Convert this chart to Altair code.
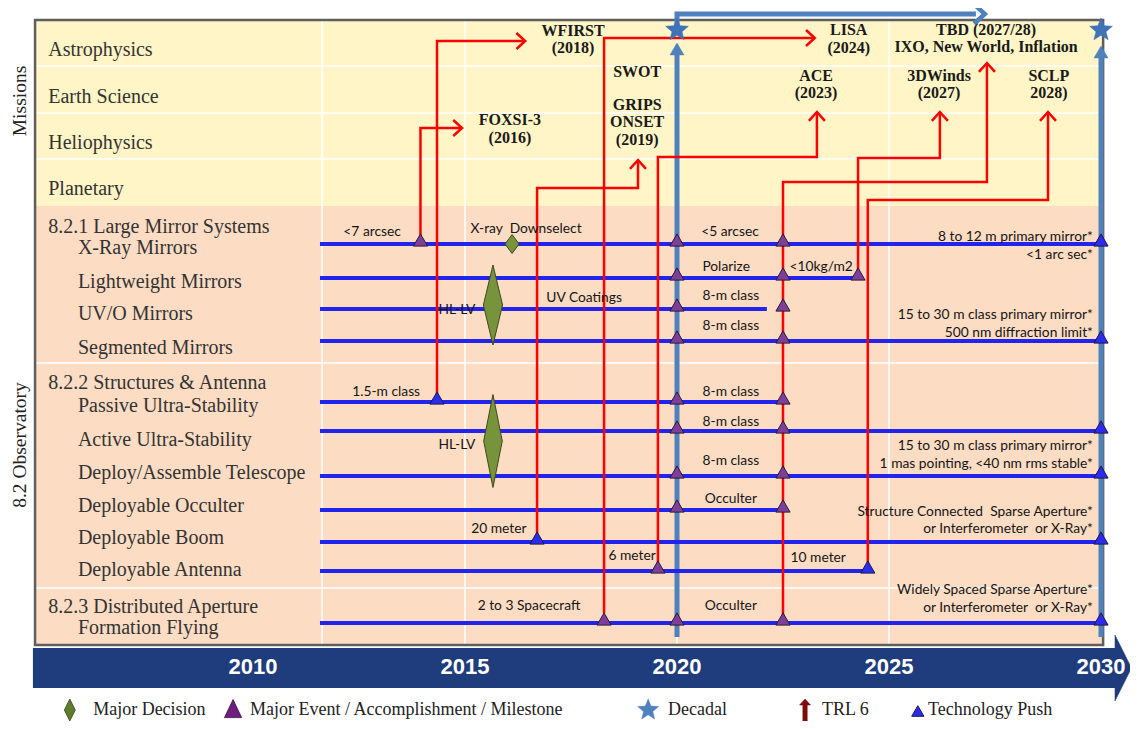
import altair as alt
import pandas as pd

# ---------------- rows ----------------
mission_rows = ["Astrophysics", "Earth Science", "Heliophysics", "Planetary"]
mission_row_pos = [50, 97, 143, 189]
mission_separators = [66, 113, 159]

group_headers = ["8.2.1 Large Mirror Systems", "8.2.2 Structures & Antenna", "8.2.3 Distributed Aperture"]
group_header_pos = [227, 383, 607]
section_separators = [363, 588]

tech_rows = ["X-Ray Mirrors", "Lightweight Mirrors", "UV/O Mirrors", "Segmented Mirrors",
             "Passive Ultra-Stability", "Active Ultra-Stability", "Deploy/Assemble Telescope",
             "Deployable Occulter", "Deployable Boom", "Deployable Antenna", "Formation Flying"]
tech_label_pos = [248, 282, 314, 348, 406, 440, 473, 506, 538, 570, 628]
tech_lane = [244, 278, 309, 341, 402, 431, 476, 510, 542, 571, 623]
tech_line_start = 2011.58
tech_line_end = [2030, 2024.27, 2022.12, 2030, 2022.5, 2030, 2030, 2022.5, 2030, 2024.5, 2030]

side_titles = ["Missions", "8.2 Observatory"]
side_title_pos = [101, 445]

# ---------------- time axis ----------------
timeline_years = [2010, 2015, 2020, 2025, 2030]
grid_years = [2011.63, 2015, 2020, 2025]
decadal_years = [2020, 2030]

# ---------------- milestones ----------------
event_rows = [0, 0, 0, 1, 1, 1, 2, 2, 3, 3, 4, 4, 5, 5, 6, 6, 7, 7, 9, 10, 10, 10]
event_years = [2013.95, 2020, 2022.5, 2020, 2022.5, 2024.27, 2020, 2022.5, 2020, 2022.5,
               2020, 2022.5, 2020, 2022.5, 2020, 2022.5, 2020, 2022.5, 2019.55, 2018.28, 2020, 2022.5]
push_rows = [0, 3, 4, 5, 6, 8, 8, 9, 10]
push_years = [2030, 2030, 2014.34, 2030, 2030, 2016.70, 2030, 2024.5, 2030]

decision_years = [2016.11, 2015.66, 2015.66]
decision_pos = [244, 305, 441]

# ---------------- missions ----------------
mission_text = ["WFIRST", "(2018)", "SWOT", "GRIPS", "ONSET", "(2019)", "FOXSI-3", "(2016)",
                "LISA", "(2024)", "TBD (2027/28)", "IXO, New World, Inflation",
                "ACE", "(2023)", "3DWinds", "(2027)", "SCLP", "2028)"]
mission_x = [2017.55, 2017.55, 2019.06, 2019.06, 2019.06, 2019.06, 2016.06, 2016.06,
             2024.05, 2024.05, 2027.29, 2027.29, 2023.28, 2023.28, 2026.18, 2026.18, 2028.77, 2028.77]
mission_y = [31, 48, 72, 104.5, 122, 140, 120, 138, 30, 48, 30, 47, 76, 93, 76, 93, 76, 93]

# TRL 6 paths (technology milestone -> mission)
trl_names = ["FOXSI-3", "WFIRST", "GRIPS/ONSET", "LISA", "ACE", "TBD", "3DWinds", "SCLP"]
trl_years = [[2013.95, 2013.95, 2014.93], [2014.34, 2014.34, 2016.42],
             [2016.70, 2016.70, 2019.08, 2019.08], [2018.28, 2018.28, 2023.25],
             [2019.55, 2019.55, 2023.30, 2023.30], [2022.5, 2022.5, 2027.31, 2027.31],
             [2024.27, 2024.27, 2026.20, 2026.20], [2024.5, 2024.5, 2028.75, 2028.75]]
trl_pos = [[244, 128, 128], [402, 41, 41], [542, 188, 188, 160], [613, 38, 38],
           [571, 157, 157, 112], [623, 182, 182, 63], [278, 158, 158, 112], [571, 200, 200, 112]]

# ---------------- annotations ----------------
note_text = ["<7 arcsec", "X-ray\u00a0 Downselect", "<5 arcsec", "Polarize", "<10kg/m2", "HL-LV",
             "UV Coatings", "8-m class", "8-m class", "1.5-m class", "8-m class", "8-m class",
             "HL-LV", "8-m class", "Occulter", "20 meter", "6 meter", "10 meter",
             "2 to 3 Spacecraft", "Occulter"]
note_x = [2012.81, 2016.44, 2021.25, 2021.16, 2023.40, 2014.81, 2017.81, 2021.27, 2021.27,
          2013.14, 2021.27, 2021.27, 2014.81, 2021.27, 2021.27, 2015.80, 2018.94, 2023.33,
          2016.51, 2021.27]
note_y = [232, 229, 232, 267, 267, 310, 298, 296, 326, 392, 392, 422, 445, 461, 499, 529,
          556, 558, 606, 606]

goal_text = ["8 to 12 m primary mirror*", "<1 arc sec*", "15 to 30 m class primary mirror*",
             "500 nm diffraction limit*", "15 to 30 m class primary mirror*",
             "1 mas pointing, <40 nm rms stable*", "Structure Connected\u00a0 Sparse Aperture*",
             "or Interferometer\u00a0 or X-Ray*", "Widely Spaced Sparse Aperture*",
             "or Interferometer\u00a0 or X-Ray*"]
goal_y = [237, 255, 315, 333, 446, 464, 512, 529, 590, 608]
goal_x = 2029.81

legend_labels = ["Major Decision", "Major Event / Accomplishment / Milestone", "Decadal", "TRL 6", "Technology Push"]
legend_label_x = [2006.23, 2009.93, 2019.79, 2023.42, 2025.92]
legend_symbol_x = [2005.68, 2009.53, 2019.32, 2023.02, 2025.68]
legend_y = 710

# ---------------- layout helpers ----------------
frame_x = [2004.86, 2030.05]
frame_y = [20, 206, 645]
bar_x = [2004.81, 2030.33]
bar_y = [648, 688]

xs = alt.Scale(domain=[2004.222, 2030.684], nice=False, zero=False)
ys = alt.Scale(domain=[8, 721], reverse=True, nice=False, zero=False)
X = alt.X("year:Q", scale=xs, axis=None)
Y = alt.Y("pos:Q", scale=ys, axis=None)

SERIF = "Liberation Serif"
SANS = "Lato"

STAR = "M0,-1L0.26,-0.36L0.95,-0.31L0.42,0.14L0.59,0.81L0,0.44L-0.59,0.81L-0.42,0.14L-0.95,-0.31L-0.26,-0.36Z"
CHEV_UP = "M-1,1.1L0,0L1,1.1"
CHEV_RIGHT = "M-1.1,-1L0,0L-1.1,1"


def df(**cols):
    return pd.DataFrame(cols)


def pts(data, **mark):
    mark.setdefault("opacity", 1)
    return alt.Chart(data).mark_point(**mark).encode(x=X, y=Y)


def txt(data, **mark):
    mark.setdefault("baseline", "middle")
    return alt.Chart(data).mark_text(**mark).encode(x=X, y=Y, text="label:N")


layers = []

# backgrounds
bg = df(year=[frame_x[0]] * 2, year2=[frame_x[1]] * 2, pos=frame_y[:2], pos2=frame_y[1:],
        c=["#FFF5C6", "#FCDCC3"])
layers.append(alt.Chart(bg).mark_rect().encode(x=X, x2="year2", y=Y, y2="pos2",
                                               color=alt.Color("c:N", scale=None)))
# white grid
hsep = df(year=[frame_x[0]] * 5, year2=[frame_x[1]] * 5, pos=mission_separators + section_separators)
layers.append(alt.Chart(hsep).mark_rule(color="white", strokeWidth=1.5).encode(x=X, x2="year2", y=Y))
vsep = df(year=grid_years, pos=[frame_y[0]] * 4, pos2=[frame_y[2]] * 4)
layers.append(alt.Chart(vsep).mark_rule(color="white", strokeWidth=1.5).encode(x=X, y=Y, y2="pos2"))
# frame
fr = df(year=[frame_x[0]], year2=[frame_x[1]], pos=[frame_y[0]], pos2=[frame_y[2]])
layers.append(alt.Chart(fr).mark_rect(fillOpacity=0, stroke="#5E5E5E", strokeWidth=2.5)
              .encode(x=X, x2="year2", y=Y, y2="pos2"))

# decadal lines
dec = df(year=decadal_years, pos=[55, 58], pos2=[637, 637])
layers.append(alt.Chart(dec).mark_rule(color="#4F81BD", strokeWidth=5).encode(x=X, y=Y, y2="pos2"))
layers.append(pts(df(year=decadal_years, pos=[43, 46]), shape="M0,0L1,1.7L-1,1.7Z", filled=True,
                  fill="#4F81BD", stroke="#4F81BD", strokeWidth=0.5, size=196))
top = df(year=[2020, 2020, 2027.05], pos=[28, 14, 14], step=[0, 1, 2])
layers.append(alt.Chart(top).mark_line(color="#4F81BD", strokeWidth=5)
              .encode(x=X, y=Y, order="step:Q"))
layers.append(pts(df(year=[2027.26], pos=[14]), shape=CHEV_RIGHT, filled=False, stroke="#4F81BD",
                  strokeWidth=4.5, size=380))

# technology lines
tl = df(year=[tech_line_start] * len(tech_rows), year2=tech_line_end, pos=tech_lane)
layers.append(alt.Chart(tl).mark_rule(color="#2323EE", strokeWidth=4).encode(x=X, x2="year2", y=Y))

# TRL 6 red paths
rows = []
for name, yrs, ps in zip(trl_names, trl_years, trl_pos):
    for i, (a, b) in enumerate(zip(yrs, ps)):
        rows.append(dict(path=name, step=i, year=a, pos=b))
red = pd.DataFrame(rows)
layers.append(alt.Chart(red).mark_line(color="#FF0000", strokeWidth=2.5)
              .encode(x=X, y=Y, detail="path:N", order="step:Q"))
tips_r = df(year=[y[-1] for y, p in zip(trl_years, trl_pos) if p[-1] == p[-2]],
            pos=[p[-1] for p in trl_pos if p[-1] == p[-2]])
tips_u = df(year=[y[-1] for y, p in zip(trl_years, trl_pos) if p[-1] != p[-2]],
            pos=[p[-1] for p in trl_pos if p[-1] != p[-2]])
layers.append(pts(tips_r, shape=CHEV_RIGHT, filled=False, stroke="#FF0000", strokeWidth=2.5, size=256))
layers.append(pts(tips_u, shape=CHEV_UP, filled=False, stroke="#FF0000", strokeWidth=2.5, size=256))

# stars
layers.append(pts(df(year=decadal_years, pos=[30, 30]), shape=STAR, filled=True, fill="#3F73B8",
                  stroke="#3F73B8", strokeWidth=0.5, size=576))

# milestones
ev = df(year=event_years, pos=[tech_lane[r] for r in event_rows])
layers.append(pts(ev, shape="triangle-up", filled=True, fill="#7E3F9A", stroke="#2A1A33",
                  strokeWidth=1, size=200, yOffset=-4))
pu = df(year=push_years, pos=[tech_lane[r] for r in push_rows])
layers.append(pts(pu, shape="triangle-up", filled=True, fill="#2B2BF2", stroke="#1A1A40",
                  strokeWidth=1, size=200, yOffset=-4))
# decisions (diamonds)
dshapes = ["M0,-1L0.74,0L0,1L-0.74,0Z", "M0,-1L0.24,0L0,1L-0.24,0Z", "M0,-1L0.2,0L0,1L-0.2,0Z"]
dsizes = [361, 6400, 8649]
for yr, p, s, z in zip(decision_years, decision_pos, dshapes, dsizes):
    layers.append(pts(df(year=[yr], pos=[p]), shape=s, filled=True, fill="#77933C",
                      stroke="#3A4A1C", strokeWidth=1, size=z))

# row labels
layers.append(txt(df(year=[2005.17] * 4, pos=mission_row_pos, label=mission_rows),
                  align="left", font=SERIF, fontSize=20, color="#333333"))
layers.append(txt(df(year=[2005.17] * 3, pos=group_header_pos, label=group_headers),
                  align="left", font=SERIF, fontSize=20, color="#333333"))
layers.append(txt(df(year=[2005.87] * len(tech_rows), pos=tech_label_pos, label=tech_rows),
                  align="left", font=SERIF, fontSize=20, color="#333333"))
layers.append(txt(df(year=[2004.5] * 2, pos=side_title_pos, label=side_titles),
                  align="center", angle=270, font=SERIF, fontSize=19.5, color="#222222"))

# mission labels
layers.append(txt(df(year=mission_x, pos=mission_y, label=mission_text),
                  align="center", font=SERIF, fontSize=16, fontWeight="bold", color="#1A1A1A"))

# annotations
layers.append(txt(df(year=note_x, pos=note_y, label=note_text),
                  align="center", font=SANS, fontSize=13.8, color="#151515"))
layers.append(txt(df(year=[goal_x] * len(goal_text), pos=goal_y, label=goal_text),
                  align="right", font=SANS, fontSize=13.8, color="#151515"))

# timeline bar
tb = df(year=[bar_x[0]], year2=[bar_x[1]], pos=[bar_y[0]], pos2=[bar_y[1]])
layers.append(alt.Chart(tb).mark_rect(color="#1F3D7C").encode(x=X, x2="year2", y=Y, y2="pos2"))
layers.append(pts(df(year=[bar_x[1]], pos=[668]), shape="M0,-1L0.5,0L0,1Z", filled=True,
                  fill="#1F3D7C", stroke="#1F3D7C", strokeWidth=0.5, size=4356))
layers.append(txt(df(year=timeline_years, pos=[667] * 5, label=[str(y) for y in timeline_years]),
                  align="center", font="Liberation Sans", fontSize=22, fontWeight="bold", color="white"))

# legend
layers.append(pts(df(year=[legend_symbol_x[0]], pos=[legend_y]), shape="M0,-1L0.5,0L0,1L-0.5,0Z",
                  filled=True, fill="#5E7D2C", stroke="#3A4A1C", strokeWidth=0.8, size=484))
layers.append(pts(df(year=[legend_symbol_x[1]], pos=[legend_y]), shape="M0,-1.1L0.9,0.8L-0.9,0.8Z",
                  filled=True, fill="#6C1F80", stroke="#3A1040", strokeWidth=0.8, size=361))
layers.append(pts(df(year=[legend_symbol_x[2]], pos=[legend_y]), shape=STAR, filled=True,
                  fill="#4F81BD", stroke="#4F81BD", strokeWidth=0.5, size=484))
layers.append(pts(df(year=[legend_symbol_x[3]], pos=[legend_y]),
                  shape="M0,-1L0.5,-0.45L0.2,-0.45L0.2,1L-0.2,1L-0.2,-0.45L-0.5,-0.45Z",
                  filled=True, fill="#7F0A0A", stroke="#7F0A0A", strokeWidth=0.5, size=484))
layers.append(pts(df(year=[legend_symbol_x[4]], pos=[legend_y + 1]), shape="triangle-up",
                  filled=True, fill="#2B2BF2", stroke="#1A1A40", strokeWidth=1, size=150))
layers.append(txt(df(year=legend_label_x, pos=[legend_y] * 5, label=legend_labels),
                  align="left", font=SERIF, fontSize=18, color="#222222"))

chart = alt.layer(*layers).properties(
    width=1122, height=713,
    autosize=alt.AutoSizeParams(type="none"),
    padding=0,
).configure_view(stroke=None)

chart.save("out.html", embed_options={"renderer": "svg", "actions": False})
